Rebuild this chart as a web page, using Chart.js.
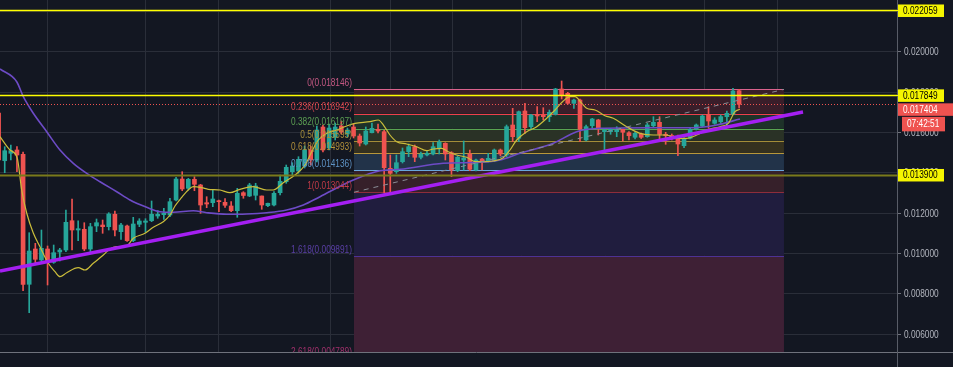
<!DOCTYPE html>
<html>
<head>
<meta charset="utf-8">
<script src="https://cdn.jsdelivr.net/npm/chart.js@4.4.1/dist/chart.umd.min.js"></script>
<style>
  html, body { margin: 0; padding: 0; background: #131722; }
  canvas { display: block; }
</style>
</head>
<body>
<canvas id="chart" width="953" height="367"></canvas>
<script>
// candles, one per bar index (0 .. 121)
const candleOpen = [0.016974,0.014608,0.014975,0.015139,0.014926,0.008478,0.010229,0.009683,0.010229,0.009569,
  0.010080,0.010179,0.011632,0.011171,0.011206,0.010229,0.011370,0.011419,0.011335,0.011950,
  0.011087,0.011370,0.010641,0.011454,0.011553,0.011632,0.011866,0.011930,0.011915,0.012659,
  0.013701,0.013239,0.013686,0.013403,0.012525,0.012525,0.012625,0.012545,0.012362,0.012129,
  0.013022,0.012858,0.012892,0.012858,0.012377,0.012411,0.013022,0.013567,0.014063,0.014098,
  0.014345,0.015139,0.014643,0.016280,0.015238,0.015769,0.016329,0.015933,0.016280,0.015833,
  0.015437,0.015997,0.016166,0.016047,0.014231,0.014063,0.014559,0.015055,0.015303,0.014777,
  0.014891,0.014941,0.015223,0.015471,0.015005,0.014112,0.014643,0.014941,0.014147,0.014693,
  0.014593,0.014593,0.015139,0.014891,0.016379,0.015719,0.017073,0.016295,0.016910,0.016875,
  0.016791,0.016910,0.018165,0.017951,0.017455,0.017619,0.015635,0.016344,0.016627,0.016047,
  0.016047,0.016047,0.016166,0.015997,0.015769,0.015933,0.015799,0.016344,0.016513,0.015918,
  0.015858,0.015769,0.015352,0.015719,0.016181,0.016329,0.016910,0.016463,0.016543,0.016791,
  0.016910,0.018080];
const candleHigh = [0.017222,0.015303,0.015387,0.015303,0.015040,0.011037,0.010511,0.011171,0.010378,0.010427,
  0.010263,0.012163,0.012709,0.011632,0.011533,0.011503,0.011717,0.011667,0.012030,0.012114,
  0.011503,0.011419,0.011801,0.011732,0.011732,0.012610,0.012129,0.012248,0.012744,0.013785,
  0.014063,0.013735,0.013815,0.013438,0.012823,0.013155,0.012659,0.012724,0.012575,0.013239,
  0.013072,0.013488,0.013488,0.012858,0.012510,0.013072,0.013899,0.014395,0.014509,0.014807,
  0.015337,0.015337,0.016329,0.016379,0.016429,0.016478,0.016577,0.016230,0.016429,0.015933,
  0.016280,0.016478,0.016429,0.016131,0.014891,0.014891,0.015238,0.015437,0.015387,0.015040,
  0.015104,0.015501,0.015635,0.015501,0.015055,0.014841,0.015585,0.015139,0.014693,0.014727,
  0.014975,0.015189,0.015189,0.016379,0.017207,0.017073,0.017455,0.016910,0.017287,0.017237,
  0.017123,0.018199,0.018562,0.018001,0.017669,0.017669,0.016379,0.016711,0.016662,0.016181,
  0.016215,0.016295,0.016181,0.016047,0.016047,0.015982,0.016463,0.016791,0.016791,0.016017,
  0.015933,0.015883,0.015749,0.016230,0.016429,0.016875,0.017287,0.016741,0.016875,0.017073,
  0.018199,0.018150];
const candleLow = [0.014544,0.014013,0.014643,0.014063,0.008160,0.007069,0.009549,0.009519,0.008443,0.009519,
  0.009634,0.010095,0.010179,0.010641,0.010144,0.010095,0.011087,0.011007,0.011171,0.010874,
  0.010709,0.010600,0.010591,0.011335,0.011057,0.011583,0.011752,0.011702,0.011831,0.012610,
  0.013120,0.013155,0.013120,0.012000,0.012277,0.012327,0.012079,0.012297,0.012079,0.011801,
  0.012744,0.012823,0.012659,0.012198,0.012327,0.012362,0.012907,0.013488,0.013899,0.013984,
  0.014246,0.014395,0.014544,0.015040,0.015139,0.015635,0.015933,0.015784,0.015734,0.015337,
  0.015387,0.015982,0.015982,0.013006,0.013006,0.013983,0.014494,0.014807,0.014559,0.014693,
  0.014841,0.014891,0.014941,0.014643,0.013815,0.014063,0.014147,0.014112,0.014097,0.014147,
  0.014544,0.014559,0.014856,0.014807,0.015551,0.015551,0.015967,0.016131,0.016543,0.016627,
  0.016543,0.016875,0.017669,0.017406,0.017207,0.015551,0.015585,0.016215,0.015883,0.014990,
  0.015918,0.015799,0.015585,0.015635,0.015685,0.015709,0.015769,0.016295,0.015685,0.015422,
  0.015635,0.014856,0.015253,0.015685,0.016131,0.016295,0.016215,0.016414,0.016463,0.016295,
  0.016875,0.017222];
const candleClose = [0.014643,0.015104,0.015104,0.014891,0.008478,0.010130,0.009718,0.010263,0.009569,0.010045,
  0.010179,0.011553,0.011171,0.011236,0.010229,0.011335,0.011533,0.011335,0.011965,0.011171,
  0.011419,0.010641,0.011469,0.011618,0.011618,0.011950,0.011950,0.012000,0.012575,0.013701,
  0.013205,0.013686,0.013438,0.012411,0.012461,0.012709,0.012575,0.012396,0.012129,0.012992,
  0.012883,0.013403,0.013354,0.012411,0.012496,0.012992,0.013587,0.014280,0.014346,0.014677,
  0.015139,0.014643,0.016131,0.015139,0.016230,0.016280,0.016032,0.016131,0.015833,0.015486,
  0.016081,0.016215,0.016081,0.014261,0.013983,0.014509,0.015055,0.015303,0.014777,0.014941,
  0.014975,0.015303,0.015536,0.014941,0.014147,0.014777,0.014742,0.014182,0.014643,0.014559,
  0.014727,0.015139,0.014941,0.016295,0.015799,0.017039,0.016245,0.016875,0.016825,0.016791,
  0.017009,0.018165,0.017867,0.017455,0.017619,0.016166,0.016295,0.016677,0.016215,0.016131,
  0.016166,0.016166,0.016017,0.015848,0.015967,0.015769,0.016379,0.016513,0.015918,0.015848,
  0.015784,0.015437,0.015719,0.016166,0.016379,0.016825,0.016577,0.016627,0.016791,0.016959,
  0.018066,0.017404];

// moving averages (bar index, price)
const fastMaX = [0.23,1.86,3.06,3.77,4.59,5.67,6.76,8.12,9.22,10.03,11.13,13.02,14.12,15.47,17.11,18.2,19.3,20.93,22.01,23.92,
  25.28,26.91,28.01,28.82,29.92,30.99,31.81,33.19,34.26,36.18,37.81,39.44,41.62,43.81,44.89,46.52,48.43,50.07,51.16,52.24,
  53.61,55.25,56.88,58.24,60.69,62.04,62.88,63.95,65.05,66.68,68.32,69.95,71.03,72.4,73.48,74.85,76.49,77.84,79.48,80.83,
  82.47,83.56,84.66,86.29,87.93,89.56,90.92,92.27,93.37,94.18,95.28,96.09,97.45,99.08,100.44,102.63,104.8,106.98,109.16,110.8,
  112.43,114.07,115.7,117.88,119.23,120.33,121.14];
const fastMaY = [0.015799,0.015139,0.014727,0.013155,0.012014,0.011022,0.010342,0.009519,0.009103,0.008855,0.009053,0.009301,0.009187,0.009519,0.009931,0.010229,0.010342,0.010377,0.010761,0.011007,
  0.011305,0.011583,0.011915,0.012361,0.012791,0.013155,0.013319,0.013269,0.013190,0.013155,0.013021,0.013190,0.013319,0.013155,0.013155,0.013517,0.013899,0.014395,0.015055,0.015635,
  0.015967,0.016131,0.016329,0.016463,0.016543,0.016627,0.016379,0.015883,0.015551,0.015437,0.015303,0.015104,0.015189,0.015223,0.015055,0.014891,0.014777,0.014559,0.014559,0.014593,
  0.014757,0.015139,0.015635,0.016047,0.016295,0.016711,0.017123,0.017569,0.017783,0.017783,0.017455,0.017207,0.017123,0.016840,0.016711,0.016295,0.015967,0.015883,0.015883,0.015719,
  0.015719,0.015883,0.016131,0.016295,0.016463,0.017039,0.017157];
const slowMaX = [0.23,2.96,4.04,5.67,7.86,10.03,12.21,14.4,16.57,19.3,21.47,24.2,26.37,28.55,31.81,34.0,37.27,40.54,43.81,47.08,
  49.79,52.52,57.96,62.32,65.59,72.66,78.66,81.93,85.2,90.64,94.46,98.27,106.44,113.52,117.34,121.14];
const slowMaY = [0.019157,0.018527,0.017783,0.016959,0.016047,0.015139,0.014479,0.013983,0.013567,0.013071,0.012659,0.012297,0.012079,0.012049,0.012128,0.012029,0.011950,0.011965,0.012029,0.012163,
  0.012411,0.012823,0.013651,0.014112,0.014182,0.014479,0.014529,0.014643,0.014975,0.015471,0.016047,0.016215,0.016245,0.016245,0.016379,0.016677];

// drawings
const trendX = [0.23, 131.44];
const trendY = [0.009137, 0.017024];
const fibDiagX = [58.07, 128.33];
const fibDiagY = [0.013044, 0.018146];
const fibStart = 58.07, fibEnd = 128.33;
const fibRatios = ['0', '0.236', '0.382', '0.5', '0.618', '0.786', '1', '1.618', '2.618'];
const fibPrices = [0.018146, 0.016942, 0.016197, 0.015595, 0.014993, 0.014136, 0.013044, 0.009891, 0.004789];
const fibLineColors = ['#d9628d', '#ee3f4c', '#58a552', '#a48d38', '#b8973a', '#68a6de', '#8e2d3b', '#4d3295', '#9a2c6a'];
const fibTextColors = ['#c45883', '#c9434d', '#5c9f53', '#a88f3b', '#b3903a', '#5e93c6', '#c03a47', '#5a3fa6', '#a0306b'];
const fibFills = ['#3a1e2a', '#1e3229', '#2a3226', '#35311f', '#223349', '#36202a', '#201d3e', '#3e2035'];

const markedPrices = [0.022059, 0.017849, 0.013900];
const markedColors = ['#ffff00', '#ffff00', '#7a7a1a'];
const lastPrice = 0.017404;
const countdown = '07:42:51';

const priceTicks = [0.006, 0.008, 0.010, 0.012, 0.014, 0.016, 0.018, 0.020, 0.022];
const timeGridIdx = [8.07, 24.03, 36.0, 54.2, 64.1, 74.1, 85.4, 99.2, 115.3, 127.3];

const UP = '#26a69a', DOWN = '#ef5350';
const FONT = '10px "Liberation Sans", Arial, sans-serif';
const SQUEEZE = 0.83;   // the screenshot text is horizontally condensed

const candleColors = candleOpen.map((o, i) => candleClose[i] >= o ? UP : DOWN);
const bodies = candleOpen.map((o, i) => ({ x: i, y: [Math.min(o, candleClose[i]), Math.max(o, candleClose[i])] }));
const wicks = candleLow.map((l, i) => ({ x: i, y: [l, candleHigh[i]] }));
const pts = (xs, ys) => xs.map((x, i) => ({ x, y: ys[i] }));

function hline(ctx, x0, x1, py, color, width, dash) {
    ctx.save();
    ctx.strokeStyle = color; ctx.lineWidth = width;
    ctx.setLineDash(dash || []);
    ctx.beginPath(); ctx.moveTo(x0, py); ctx.lineTo(x1, py); ctx.stroke();
    ctx.restore();
}

// condensed text at (x, y)
function text(ctx, str, x, y, color, align, baseline) {
    ctx.save();
    ctx.font = FONT;
    ctx.fillStyle = color;
    ctx.textAlign = align; ctx.textBaseline = baseline;
    ctx.translate(x, y); ctx.scale(SQUEEZE, 1);
    ctx.fillText(str, 0, 0);
    ctx.restore();
}

function priceBox(ctx, str, x0, x1, top, bottom, bg, fg) {
    ctx.fillStyle = bg;
    ctx.fillRect(x0, top, x1 - x0, bottom - top);
    text(ctx, str, x0 + 5, (top + bottom) / 2 + 0.5, fg, 'left', 'middle');
}

const drawings = {
    id: 'drawings',
    beforeDatasetsDraw(chart) {
        const { ctx, chartArea: a, scales: { x, y } } = chart;
        const x0 = x.getPixelForValue(fibStart), x1 = x.getPixelForValue(fibEnd);
        ctx.save();
        ctx.beginPath(); ctx.rect(a.left, a.top, a.width, a.height); ctx.clip();
        for (let i = 0; i < fibFills.length; i++) {
            const ya = y.getPixelForValue(fibPrices[i]), yb = y.getPixelForValue(fibPrices[i + 1]);
            ctx.fillStyle = fibFills[i];
            ctx.fillRect(x0, ya, x1 - x0, yb - ya);
        }
        fibPrices.forEach((p, i) => {
            const py = Math.round(y.getPixelForValue(p)) + 0.5;
            hline(ctx, x0, x1, py, fibLineColors[i], 1);
        });
        ctx.restore();
    },
    afterDatasetsDraw(chart) {
        const { ctx, chartArea: a, scales: { x, y } } = chart;
        const x0 = x.getPixelForValue(fibStart);
        ctx.save();
        ctx.beginPath(); ctx.rect(a.left, a.top, a.width, a.height); ctx.clip();
        // fib labels, left of the box
        fibPrices.forEach((p, i) => {
            text(ctx, fibRatios[i] + '(' + p.toFixed(6) + ')', x0 - 2, y.getPixelForValue(p) - 1,
                 fibTextColors[i], 'right', 'bottom');
        });
        // horizontal price lines
        markedPrices.forEach((p, i) => {
            const py = Math.round(y.getPixelForValue(p)) + 0.5;
            hline(ctx, a.left, a.right, py, markedColors[i], i === 2 ? 2 : 1.3);
        });
        hline(ctx, a.left, a.right, Math.round(y.getPixelForValue(lastPrice)) + 0.5, DOWN, 1, [1, 2]);
        ctx.restore();
    },
    afterDraw(chart) {
        const { ctx, chartArea: a, scales: { y } } = chart;
        const W = chart.width, H = chart.height;
        ctx.save();
        hline(ctx, 0, W, a.bottom + 0.5, '#6f727c', 1);
        ctx.strokeStyle = '#585c67'; ctx.lineWidth = 1;
        ctx.beginPath(); ctx.moveTo(a.right + 0.5, 0); ctx.lineTo(a.right + 0.5, H); ctx.stroke();
        // axis tick labels
        priceTicks.forEach(v => {
            text(ctx, v.toFixed(6), a.right + 7, y.getPixelForValue(v) + 0.5, '#b2b5be', 'left', 'middle');
        });
        // price labels on the axis
        markedPrices.forEach((p, i) => {
            const py = y.getPixelForValue(p);
            hline(ctx, a.right, a.right + 3, Math.round(py) + 0.5, markedColors[i], 1);
            priceBox(ctx, p.toFixed(6), a.right + 1, a.right + 47, py - 6, py + 6.5, '#f5f500', '#000000');
        });
        const lp = y.getPixelForValue(lastPrice);
        priceBox(ctx, lastPrice.toFixed(6), a.right + 1, W, lp - 1, lp + 11.5, DOWN, '#ffffff');
        priceBox(ctx, countdown, a.right + 5, a.right + 48, lp + 12.5, lp + 27, DOWN, '#ffffff');
        ctx.restore();
    }
};

new Chart(document.getElementById('chart'), {
    type: 'bar',
    data: {
        datasets: [
            { type: 'line', data: pts(trendX, trendY), borderColor: '#a41ff2', borderWidth: 3.5, pointRadius: 0, order: 0 },
            { type: 'line', data: pts(fibDiagX, fibDiagY), borderColor: '#8a8d96', borderWidth: 1, borderDash: [5, 5], pointRadius: 0, order: 1 },
            { type: 'line', data: pts(fastMaX, fastMaY), borderColor: '#cbbd3b', borderWidth: 1.2, pointRadius: 0, cubicInterpolationMode: 'monotone', order: 2 },
            { type: 'line', data: pts(slowMaX, slowMaY), borderColor: '#6d4bc6', borderWidth: 1.6, pointRadius: 0, cubicInterpolationMode: 'monotone', order: 3 },
            { data: bodies, backgroundColor: candleColors, barThickness: 4, grouped: false, minBarLength: 1, borderWidth: 0, order: 4 },
            { data: wicks, backgroundColor: candleColors, barThickness: 1, grouped: false, borderWidth: 0, order: 5 },
        ],
    },
    options: {
        responsive: false, animation: false, devicePixelRatio: 1,
        layout: { padding: 0 },
        plugins: { legend: { display: false }, tooltip: { enabled: false } },
        scales: {
            x: {
                type: 'linear', min: 0.229, max: 146.8, offset: false,
                grid: { color: '#2a2e39', drawTicks: false, offset: false },
                border: { display: false },
                ticks: { display: false },
                afterBuildTicks: s => { s.ticks = timeGridIdx.map(v => ({ value: v })); },
                afterFit: s => { s.height = 15; s.paddingLeft = 0; s.paddingRight = 0; },
            },
            y: {
                type: 'linear', position: 'right', min: 0.00512, max: 0.022579,
                grid: { color: '#2a2e39', tickColor: '#6f727c', tickLength: 4, offset: false },
                border: { display: false },
                ticks: { display: false },
                afterBuildTicks: s => { s.ticks = priceTicks.map(v => ({ value: v })); },
                afterFit: s => { s.width = 56; s.paddingTop = 0; s.paddingBottom = 0; },
            },
        },
    },
    plugins: [drawings],
});
</script>
</body>
</html>
